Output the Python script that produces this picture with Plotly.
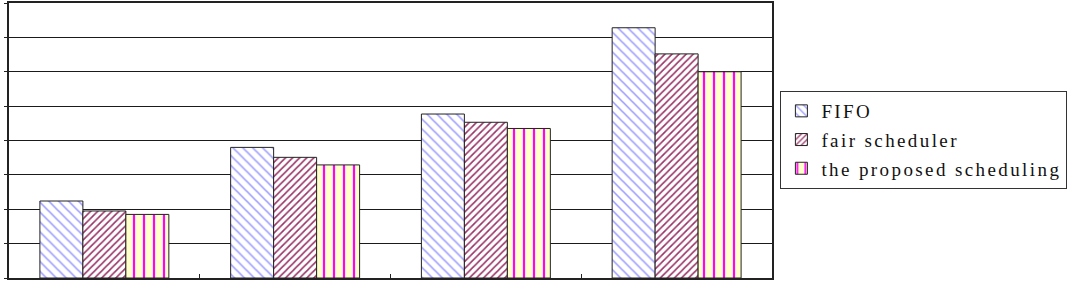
import plotly.graph_objects as go

categories = ["1", "2", "3", "4"]
series_names = ["FIFO", "fair scheduler", "the proposed scheduling"]
fifo = [2.24, 3.80, 4.77, 7.28]
fair = [1.95, 3.51, 4.53, 6.52]
proposed = [1.85, 3.29, 4.35, 6.00]

styles = [
    dict(shape="\\", fgcolor="#9999ff", bgcolor="white", size=7, solidity=0.22),
    dict(shape="/", fgcolor="#993366", bgcolor="white", size=5, solidity=0.32),
    dict(shape="|", fgcolor="#ff00ff", bgcolor="#ffffcc", size=10, solidity=0.22),
]

fig = go.Figure()
for i, (name, vals, st) in enumerate(zip(series_names, [fifo, fair, proposed], styles)):
    fig.add_trace(go.Bar(
        x=categories, y=vals,
        name='<span style="letter-spacing:2.4px">' + name + '</span>',
        legendgroup="g%d" % i,
        marker=dict(color=st["bgcolor"], line=dict(color="#222222", width=1),
                    pattern=dict(shape=st["shape"], fgcolor=st["fgcolor"],
                                 bgcolor=st["bgcolor"], size=st["size"],
                                 solidity=st["solidity"], fillmode="replace")),
    ))

fig.update_layout(
    width=1075, height=283,
    margin=dict(l=9, r=303, t=3, b=5, autoexpand=False),
    paper_bgcolor="white", plot_bgcolor="white",
    barmode="group", bargap=0.324, bargroupgap=0,
    showlegend=True,
    legend=dict(x=1.011, xanchor="left", y=0.68, yanchor="top",
                bordercolor="#333333", borderwidth=1,
                font=dict(family="Liberation Serif, Times New Roman, serif",
                          size=19, color="#111111"),
                bgcolor="white", tracegroupgap=1),
    font=dict(family="Liberation Serif, Times New Roman, serif"),
)
fig.update_xaxes(showticklabels=False, tickson="boundaries", ticks="inside",
                 ticklen=4, tickcolor="#222222",
                 showline=True, linecolor="#222222", linewidth=2, mirror=True,
                 showgrid=False)
fig.update_yaxes(range=[0, 8], dtick=1, showticklabels=False, ticks="outside",
                 ticklen=3, tickcolor="#222222",
                 showgrid=True, gridcolor="#1a1a1a", gridwidth=1.3,
                 showline=True, linecolor="#222222", linewidth=2, mirror=True,
                 zeroline=False)

fig.write_html("out.html")
